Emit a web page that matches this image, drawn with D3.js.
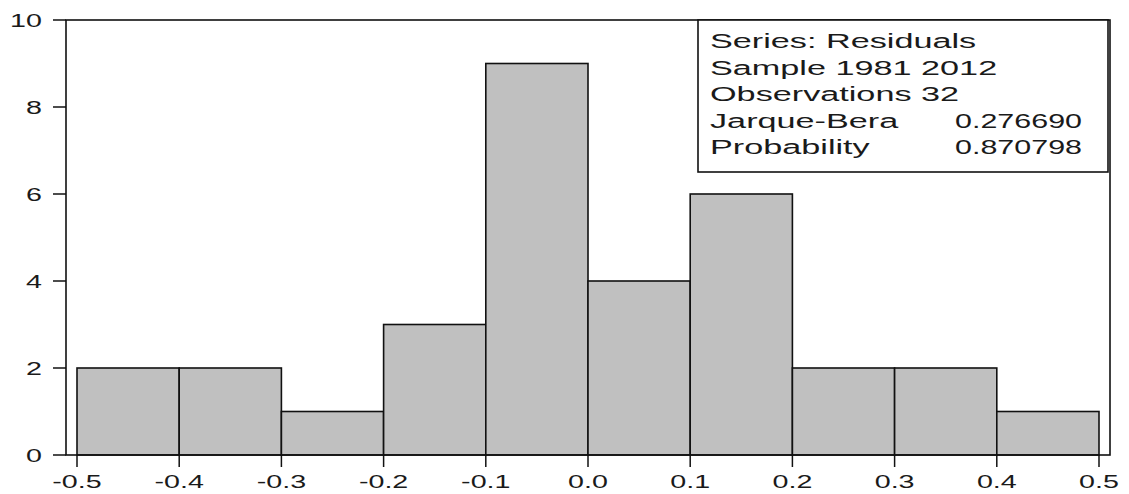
<!DOCTYPE html>
<html><head><meta charset="utf-8">
<script src="https://cdn.jsdelivr.net/npm/d3@7"></script>
<style>body{margin:0;background:#fff}svg{display:block}text{font-family:"Liberation Sans",Arial,sans-serif;fill:#1a1a1a}</style>
</head><body><svg id="c" width="1129" height="494"></svg>
<script>
const binStarts = [-0.5,-0.4,-0.3,-0.2,-0.1,0.0,0.1,0.2,0.3,0.4];
const binWidth = 0.1;
const counts = [2,2,1,3,9,4,6,2,2,1];
const xTicks = [-0.5,-0.4,-0.3,-0.2,-0.1,0.0,0.1,0.2,0.3,0.4,0.5];
const yTicks = [0,2,4,6,8,10];
const statLabels = ["Series: Residuals","Sample 1981 2012","Observations 32","Jarque-Bera","Probability"];
const statValues = ["","","","0.276690","0.870798"];

const svg = d3.select("#c");
const x = d3.scaleLinear().domain([-0.5,0.5]).range([77,1099]);
const y = d3.scaleLinear().domain([0,10]).range([455,20]);
const frameL = 66, frameR = 1110, frameT = y(10), frameB = y(0);

function txt(g, px, py, s, size, anchor, sx){
  return g.append("text").attr("transform",`translate(${px},${py}) scale(${sx},1)`)
    .attr("font-size",size).attr("text-anchor",anchor).text(s);
}

// bars
svg.append("g").selectAll("rect").data(counts).join("rect")
  .attr("x",(d,i)=>x(binStarts[i]))
  .attr("width",(d,i)=>x(binStarts[i]+binWidth)-x(binStarts[i]))
  .attr("y",d=>y(d)).attr("height",d=>y(0)-y(d))
  .attr("fill","#c0c0c0").attr("stroke","#111").attr("stroke-width",1.6);

// frame
svg.append("rect").attr("x",frameL).attr("y",frameT).attr("width",frameR-frameL).attr("height",frameB-frameT)
  .attr("fill","none").attr("stroke","#111").attr("stroke-width",1.6);

// y ticks
const gy = svg.append("g");
yTicks.forEach(v=>{
  gy.append("line").attr("x1",53).attr("x2",frameL).attr("y1",y(v)).attr("y2",y(v)).attr("stroke","#111").attr("stroke-width",1.5);
  txt(gy,42,y(v)+7,String(v),18.5,"end",1.55);
});
// x ticks
const gx = svg.append("g");
xTicks.forEach(v=>{
  gx.append("line").attr("x1",x(v)).attr("x2",x(v)).attr("y1",frameB).attr("y2",frameB+12).attr("stroke","#111").attr("stroke-width",1.5);
  txt(gx,x(v),488,d3.format(".1f")(v).replace("−","-"),18.5,"middle",1.55);
});

// stats box
const bx0=698, bx1=1108, by0=20, by1=172;
svg.append("rect").attr("x",bx0).attr("y",by0).attr("width",bx1-bx0).attr("height",by1-by0)
  .attr("fill","#fff").attr("stroke","#111").attr("stroke-width",1.6);
const gs = svg.append("g");
statLabels.forEach((s,i)=>{
  txt(gs,710,48+26.5*i,s,21,"start",1.63);
  if(statValues[i]) txt(gs,1082,48+26.5*i,statValues[i],21,"end",1.45);
});
</script></body></html>
